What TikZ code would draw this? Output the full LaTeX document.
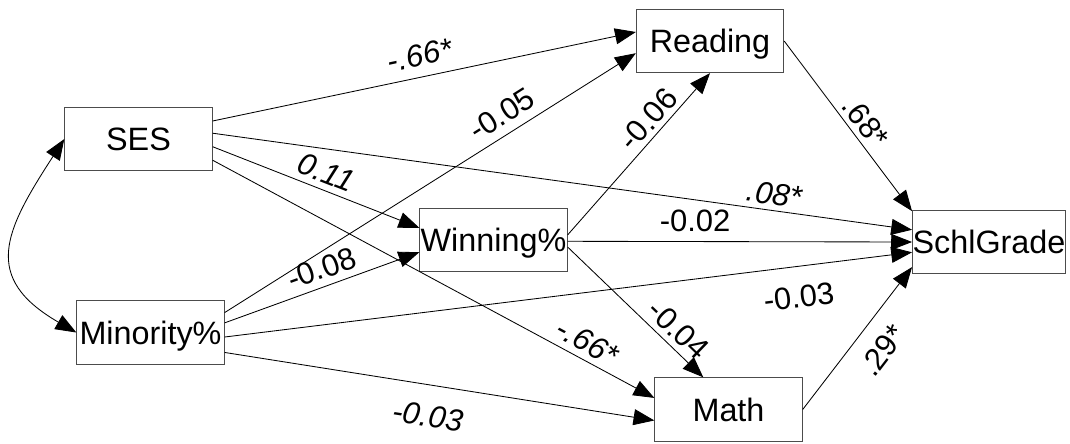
\documentclass[tikz,border=0pt]{standalone}
\usepackage{fontspec}
\setmainfont{Liberation Sans}
\usetikzlibrary{arrows.meta,calc}

\begin{document}
\begin{tikzpicture}[x=0.025cm,y=-0.025cm,
  var/.style={draw=black!70,line width=0.8pt,fill=white,minimum width=36.8mm,
    minimum height=15.8mm,inner sep=0pt,text height=16.5pt,text depth=0pt,
    font=\fontsize{23}{27}\selectfont},
  arr/.style={-{Triangle[length=5.2mm,width=4mm]},line width=0.6pt},
  lbl/.style={font=\fontsize{22}{26}\selectfont,inner sep=0pt,sloped,
    text height=15.7pt,text depth=0pt},
  ilbl/.style={lbl,font=\fontsize{22}{26}\selectfont\itshape}]

\useasboundingbox (0,0) rectangle (1070,443);

\node[var] (ses) at (138.5,139) {SES};
\node[var] (minor) at (150.5,332.5) {Minority\%};
\node[var] (winning) at (493.5,240) {Winning\%};
\node[var] (reading) at (710,41) {Reading};
\node[var] (grade) at (989,242) {SchlGrade};
\node[var] (math) at (728.5,409.5) {Math};

% SES paths
\draw[arr] ($(ses.north east)!0.22!(ses.south east)$) --
  ($(reading.north west)!0.36!(reading.south west)$)
  node[ilbl,pos=0.50,above=7.6pt] {-.66*};
\draw[arr] ($(ses.north east)!0.41!(ses.south east)$) --
  ($(grade.north west)!0.31!(grade.south west)$)
  node[ilbl,pos=0.80,above=3.8pt] {.08*};
\draw[arr] ($(ses.north east)!0.62!(ses.south east)$) --
  ($(winning.north west)!0.31!(winning.south west)$)
  node[ilbl,pos=0.52,above=4.6pt] {0.11};
\draw[arr] ($(ses.north east)!0.83!(ses.south east)$) --
  ($(math.north west)!0.32!(math.south west)$)
  node[ilbl,pos=0.83,above=4.6pt] {-.66*};

% Minority% paths
\draw[arr] ($(minor.north east)!0.19!(minor.south east)$) --
  ($(reading.north west)!0.69!(reading.south west)$)
  node[lbl,pos=0.70,above=6.3pt] {-0.05};
\draw[arr] ($(minor.north east)!0.35!(minor.south east)$) --
  ($(winning.north west)!0.69!(winning.south west)$)
  node[lbl,pos=0.53,above=5.1pt] {-0.08};
\draw[arr] ($(minor.north east)!0.57!(minor.south east)$) --
  ($(grade.north west)!0.66!(grade.south west)$)
  node[lbl,pos=0.83,below=13.3pt] {-0.03};
\draw[arr] ($(minor.north east)!0.81!(minor.south east)$) --
  ($(math.north west)!0.67!(math.south west)$)
  node[ilbl,pos=0.485,below=13.8pt] {-0.03};

% Winning% paths
\draw[arr] ($(winning.north east)!0.42!(winning.south east)$) --
  (reading.south)
  node[lbl,pos=0.65,above=3.5pt] {-0.06};
\draw[arr] ($(winning.north east)!0.52!(winning.south east)$) --
  (grade.west)
  node[lbl,pos=0.37,above=7pt] {-0.02};
\draw[arr] ($(winning.north east)!0.61!(winning.south east)$) --
  ($(math.north west)!0.33!(math.north east)$)
  node[lbl,pos=0.73,above=4.4pt] {-0.04};

% into SchlGrade
\draw[arr] (reading.east) -- ($(grade.north west)!0.02!(grade.south west)$)
  node[lbl,pos=0.535,above=3.8pt] {.68*};
\draw[arr] (math.east) -- ($(grade.north west)!0.89!(grade.south west)$)
  node[lbl,pos=0.53,below=11pt] {.29*};

% covariance
\draw[{Triangle[length=5.2mm,width=4mm]}-{Triangle[length=5.2mm,width=4mm]},
  line width=0.6pt] (ses.west) to[out=237,in=150,looseness=1.45] (minor.west);
\end{tikzpicture}
\end{document}
